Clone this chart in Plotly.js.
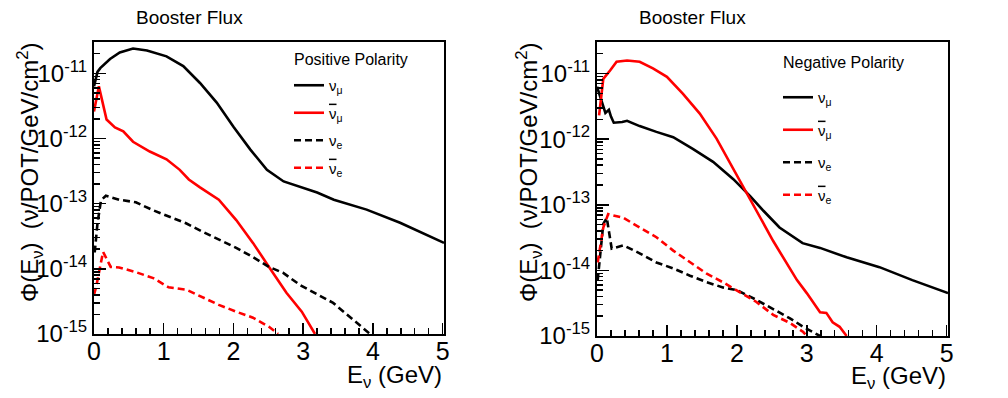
<!DOCTYPE html>
<html>
<head>
<meta charset="utf-8">
<script src="https://cdn.plot.ly/plotly-3.0.1.min.js"></script>
<style>
  html, body { margin: 0; padding: 0; background: #fff; }
  #chart { width: 1008px; height: 398px; }
</style>
</head>
<body>
<div id="chart"></div>
<script>
// Positive polarity (left panel)
const posNumuE = [0, 0.05, 0.09, 0.23, 0.37, 0.56, 0.76, 1.04, 1.28, 1.52, 1.76, 2.0, 2.24, 2.48, 2.72, 2.96, 3.2, 3.44, 3.91, 4.39, 5.02];
const posNumu = [6.3e-12, 1.05e-11, 1.2e-11, 1.66e-11, 2.09e-11, 2.4e-11, 2.24e-11, 1.82e-11, 1.29e-11, 7.1e-12, 3.55e-12, 1.51e-12, 6.8e-13, 3.3e-13, 2.19e-13, 1.78e-13, 1.48e-13, 1.15e-13, 8.1e-14, 5.1e-14, 2.5e-14];

const posNumubarE = [0, 0.07, 0.18, 0.3, 0.42, 0.56, 0.8, 1.04, 1.23, 1.36, 1.52, 1.79, 2.04, 2.28, 2.51, 2.76, 2.98, 3.03, 3.17];
const posNumubar = [2.6e-12, 6.3e-12, 1.95e-12, 1.48e-12, 1.29e-12, 8.9e-13, 6.3e-13, 4.8e-13, 3.3e-13, 2.35e-13, 1.78e-13, 1.15e-13, 5.6e-14, 2.5e-14, 1.07e-14, 4.3e-15, 2.2e-15, 1.8e-15, 1.0e-15];

const posNueE = [0.01, 0.05, 0.1, 0.17, 0.36, 0.6, 0.85, 1.07, 1.32, 1.56, 1.79, 2.04, 2.28, 2.51, 2.71, 2.96, 3.43, 3.72, 3.96];
const posNue = [1.78e-14, 5.0e-14, 1.12e-13, 1.32e-13, 1.15e-13, 1.05e-13, 7.9e-14, 6.3e-14, 5.0e-14, 3.7e-14, 2.8e-14, 2.1e-14, 1.51e-14, 1.07e-14, 8.7e-15, 5.6e-15, 3.0e-15, 1.66e-15, 1.0e-15];

const posNuebarE = [0.0, 0.03, 0.13, 0.24, 0.36, 0.6, 0.85, 1.07, 1.32, 1.56, 1.79, 2.04, 2.28, 2.51, 2.64];
const posNuebar = [4.0e-15, 5.2e-15, 1.82e-14, 1.07e-14, 1.05e-14, 8.9e-15, 7.2e-15, 5.2e-15, 4.8e-15, 3.7e-15, 2.8e-15, 2.2e-15, 1.78e-15, 1.29e-15, 1.0e-15];

// Negative polarity (right panel)
const negNumuE = [0, 0.06, 0.12, 0.17, 0.2, 0.24, 0.36, 0.43, 0.61, 0.85, 1.09, 1.37, 1.66, 1.95, 2.19, 2.38, 2.61, 2.94, 3.19, 3.57, 4.04, 4.51, 5.02];
const negNumu = [6.3e-12, 4.0e-12, 2.5e-12, 2.8e-12, 2.2e-12, 1.78e-12, 1.82e-12, 1.9e-12, 1.58e-12, 1.29e-12, 1.07e-12, 7.1e-13, 4.5e-13, 2.45e-13, 1.35e-13, 8.1e-14, 4.5e-14, 2.6e-14, 2.2e-14, 1.58e-14, 1.12e-14, 7.1e-15, 4.5e-15];

const negNumubarE = [0.03, 0.09, 0.19, 0.28, 0.43, 0.61, 0.8, 1.0, 1.23, 1.47, 1.71, 1.95, 2.19, 2.52, 2.86, 3.0, 3.19, 3.28, 3.37, 3.47, 3.57];
const negNumubar = [2.3e-12, 8.3e-12, 1.12e-11, 1.51e-11, 1.58e-11, 1.51e-11, 1.2e-11, 8.9e-12, 4.9e-12, 2.45e-12, 1.02e-12, 3.5e-13, 1.26e-13, 2.8e-14, 7.1e-15, 4.5e-15, 2.3e-15, 2.25e-15, 1.62e-15, 1.38e-15, 1.0e-15];

const negNueE = [0.01, 0.09, 0.14, 0.21, 0.38, 0.61, 0.85, 1.09, 1.33, 1.57, 1.8, 2.0, 2.28, 2.52, 2.76, 2.95, 3.19];
const negNue = [7.1e-15, 5.1e-14, 6.3e-14, 2.15e-14, 2.4e-14, 1.82e-14, 1.32e-14, 1.07e-14, 8.3e-15, 6.6e-15, 5.5e-15, 5.0e-15, 3.55e-15, 2.6e-15, 1.86e-15, 1.38e-15, 1.0e-15];

const negNuebarE = [0.01, 0.09, 0.16, 0.38, 0.61, 0.85, 1.09, 1.33, 1.57, 1.8, 2.0, 2.28, 2.52, 2.76, 2.95, 3.0];
const negNuebar = [1.32e-14, 4.5e-14, 7.2e-14, 6.3e-14, 4.5e-14, 3.2e-14, 2.0e-14, 1.32e-14, 8.9e-15, 6.6e-15, 5.0e-15, 3.3e-15, 2.1e-15, 1.58e-15, 1.15e-15, 1.0e-15];

// axis ticks
const yTickVals = [1e-15, 1e-14, 1e-13, 1e-12, 1e-11];
const yTickText = ['10<sup>-15</sup>', '10<sup>-14</sup>', '10<sup>-13</sup>', '10<sup>-12</sup>', '10<sup>-11</sup>'];
const yMinorVals = [];
yTickVals.forEach(d => { for (let k = 2; k <= 9; k++) yMinorVals.push(d * k); });

const bar = s => '<span style="text-decoration:overline">' + s + '</span>';
const labels = ['ν<sub>μ</sub>', bar('ν') + '<sub>μ</sub>', 'ν<sub>e</sub>', bar('ν') + '<sub>e</sub>'];

function line(x, y, name, color, dash, axis, legend) {
    return {
        x: x, y: y, name: name,
        type: 'scatter', mode: 'lines',
        xaxis: 'x' + axis, yaxis: 'y' + axis,
        legend: legend, legendgroup: legend + name,
        line: {color: color, width: 2.6, dash: dash}
    };
}

const traces = [
    line(posNumuE, posNumu, labels[0], '#000000', 'solid', '', 'legend'),
    line(posNumubarE, posNumubar, labels[1], '#ff0000', 'solid', '', 'legend'),
    line(posNueE, posNue, labels[2], '#000000', '7px,4px', '', 'legend'),
    line(posNuebarE, posNuebar, labels[3], '#ff0000', '7px,4px', '', 'legend'),
    line(negNumuE, negNumu, labels[0], '#000000', 'solid', '2', 'legend2'),
    line(negNumubarE, negNumubar, labels[1], '#ff0000', 'solid', '2', 'legend2'),
    line(negNueE, negNue, labels[2], '#000000', '7px,4px', '2', 'legend2'),
    line(negNuebarE, negNuebar, labels[3], '#ff0000', '7px,4px', '2', 'legend2')
];

function xAxis(domain, anchor) {
    return {
        domain: domain, anchor: anchor, range: [0, 5.02],
        dtick: 1, ticks: 'inside', ticklen: 11, tickwidth: 1.5, tickcolor: '#000',
        minor: {dtick: 0.2, ticks: 'inside', ticklen: 6, tickwidth: 1.5, tickcolor: '#000', showgrid: false},
        showline: true, mirror: true, linewidth: 2, linecolor: '#000',
        showgrid: false, zeroline: false, ticklabelstandoff: -6,
        tickfont: {size: 25, color: '#000'}
    };
}

function yAxis(domain, anchor) {
    return {
        domain: domain, anchor: anchor, type: 'log', range: [-15, -10.52],
        tickmode: 'array', tickvals: yTickVals, ticktext: yTickText,
        ticks: 'inside', ticklen: 12, tickwidth: 1.5, tickcolor: '#000',
        minor: {tickmode: 'array', tickvals: yMinorVals, ticks: 'inside', ticklen: 6, tickwidth: 1.5, tickcolor: '#000', showgrid: false},
        showline: true, mirror: true, linewidth: 2, linecolor: '#000',
        showgrid: false, zeroline: false,
        tickfont: {size: 24, color: '#000'}
    };
}

const yTitle = 'Φ(E<sub>ν</sub>)  (ν/POT/GeV/cm<sup>2</sup>)';
const titleFont = {size: 24, color: '#000'};

function note(text, x, y, font, extra) {
    return Object.assign({
        text: text, xref: 'paper', yref: 'paper', x: x / 1008, y: 1 - y / 398,
        xanchor: 'center', yanchor: 'middle', showarrow: false, font: font
    }, extra || {});
}

const layout = {
    width: 1008, height: 398,
    margin: {l: 0, r: 0, t: 0, b: 0},
    paper_bgcolor: '#fff', plot_bgcolor: '#fff',
    font: {family: '"Liberation Sans", Arial, sans-serif', color: '#000'},
    xaxis: xAxis([94 / 1008, 444 / 1008], 'y'),
    yaxis: yAxis([1 - 334 / 398, 1 - 42 / 398], 'x'),
    xaxis2: xAxis([597 / 1008, 948 / 1008], 'y2'),
    yaxis2: yAxis([1 - 336 / 398, 1 - 42 / 398], 'x2'),
    legend: {
        x: 289 / 1008, y: 1 - 69 / 398, xanchor: 'left', yanchor: 'top',
        bgcolor: 'rgba(0,0,0,0)', font: {size: 15}, tracegroupgap: 5
    },
    legend2: {
        x: 778 / 1008, y: 1 - 81 / 398, xanchor: 'left', yanchor: 'top',
        bgcolor: 'rgba(0,0,0,0)', font: {size: 15}, tracegroupgap: 10
    },
    annotations: [
        note('Booster Flux', 189, 18, {size: 19}),
        note('Booster Flux', 692, 18, {size: 19}),
        note('Positive Polarity', 292, 60, {size: 16}, {xanchor: 'left'}),
        note('Negative Polarity', 781, 62, {size: 16}, {xanchor: 'left'}),
        note(yTitle, 30, 172, titleFont, {textangle: -90}),
        note(yTitle, 529, 172, titleFont, {textangle: -90}),
        note('E<sub>ν</sub> (GeV)', 444, 376, titleFont, {xanchor: 'right'}),
        note('E<sub>ν</sub> (GeV)', 948, 377, titleFont, {xanchor: 'right'})
    ]
};

Plotly.newPlot('chart', traces, layout, {displayModeBar: false, staticPlot: true});
</script>
</body>
</html>
